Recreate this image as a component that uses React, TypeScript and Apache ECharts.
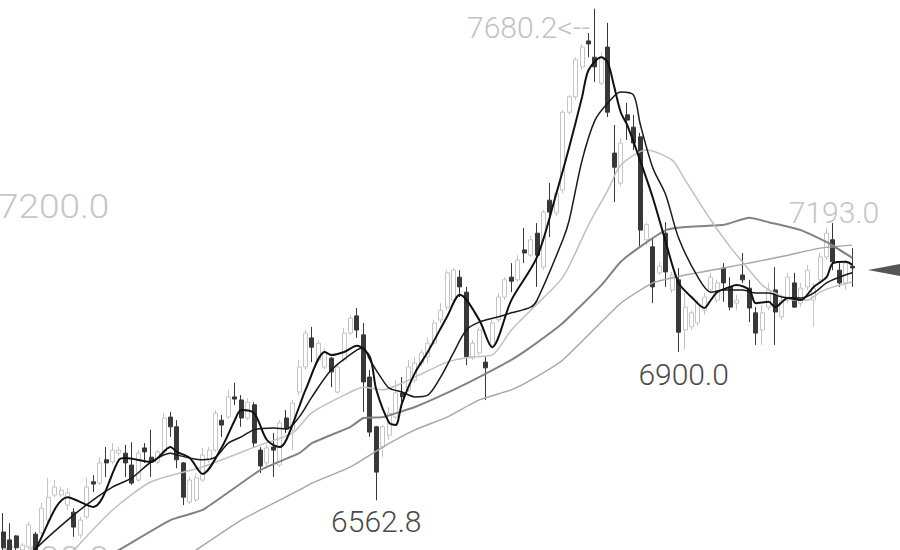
import React, { useEffect, useRef } from "react";
import * as echarts from "echarts";

const categories: string[] = Array.from({ length: 133 }, (_, i) => `D${i + 1}`);

// [open, close, low, high]
const ohlc: number[][] = [
  [6491, 6455, 6436, 6534], [6473, 6450, 6436, 6511], [6482, 6455, 6445, 6484], [6450, 6461, 6443, 6466],
  [6457, 6507, 6452, 6514], [6486, 6450, 6443, 6491], [6489, 6545, 6484, 6557], [6518, 6570, 6514, 6614],
  [6575, 6593, 6570, 6609], [6575, 6586, 6570, 6593], [6552, 6580, 6541, 6591], [6536, 6502, 6480, 6545],
  [6484, 6518, 6477, 6525], [6525, 6593, 6520, 6614], [6605, 6600, 6582, 6620], [6602, 6648, 6598, 6661],
  [6655, 6648, 6616, 6684], [6650, 6677, 6645, 6693], [6670, 6677, 6664, 6684], [6670, 6648, 6616, 6689],
  [6643, 6602, 6598, 6695], [6609, 6670, 6605, 6677], [6682, 6673, 6648, 6693], [6661, 6650, 6616, 6723],
  [6650, 6673, 6645, 6677], [6673, 6750, 6668, 6761], [6752, 6730, 6707, 6764], [6730, 6655, 6636, 6745],
  [6648, 6570, 6552, 6650], [6559, 6609, 6555, 6616], [6564, 6614, 6559, 6625], [6609, 6666, 6605, 6682],
  [6655, 6677, 6648, 6684], [6677, 6761, 6673, 6768], [6745, 6734, 6707, 6757], [6752, 6798, 6748, 6814],
  [6798, 6793, 6780, 6830], [6791, 6750, 6730, 6802], [6750, 6786, 6745, 6795], [6780, 6693, 6684, 6786],
  [6677, 6641, 6625, 6684], [6648, 6682, 6641, 6689], [6684, 6677, 6616, 6716], [6643, 6739, 6639, 6745],
  [6750, 6725, 6716, 6768], [6723, 6784, 6677, 6791], [6809, 6866, 6802, 6882], [6866, 6943, 6859, 6950],
  [6932, 6911, 6877, 6957], [6882, 6920, 6877, 6927], [6866, 6900, 6861, 6909], [6886, 6855, 6820, 6889],
  [6809, 6866, 6805, 6875], [6882, 6943, 6877, 6955], [6943, 6977, 6939, 6984], [6982, 6950, 6932, 7000],
  [6939, 6832, 6764, 6966], [6843, 6718, 6707, 6859], [6730, 6627, 6562.8, 6732], [6684, 6730, 6661, 6734],
  [6711, 6761, 6700, 6775], [6752, 6807, 6748, 6836], [6807, 6798, 6773, 6843], [6814, 6866, 6809, 6882],
  [6836, 6875, 6830, 6889], [6875, 6898, 6868, 6905], [6889, 6920, 6875, 6932], [6920, 6966, 6916, 6973],
  [6973, 6995, 6966, 7011], [7002, 7080, 6995, 7086], [7018, 7086, 7014, 7091], [7070, 7048, 7025, 7086],
  [7036, 6889, 6870, 7048], [6886, 6920, 6882, 6927], [6898, 6950, 6893, 6957], [6877, 6864, 6791, 6889],
  [6916, 6966, 6909, 6973], [6973, 7025, 6968, 7034], [7025, 7064, 7018, 7070], [7070, 7061, 7036, 7102],
  [7064, 7109, 7059, 7120], [7132, 7125, 7102, 7182], [7120, 7155, 7116, 7164], [7170, 7120, 7048, 7193],
  [7093, 7218, 7086, 7223], [7245, 7218, 7161, 7284], [7216, 7261, 7209, 7268], [7268, 7445, 7261, 7450],
  [7445, 7480, 7439, 7484], [7480, 7564, 7473, 7570], [7548, 7593, 7541, 7600], [7607, 7600, 7570, 7625],
  [7570, 7548, 7514, 7680.2], [7511, 7570, 7507, 7582], [7593, 7445, 7434, 7648], [7352, 7320, 7241, 7416],
  [7284, 7375, 7277, 7386], [7439, 7427, 7382, 7466], [7411, 7375, 7359, 7439], [7389, 7177, 7139, 7398],
  [7155, 7189, 7143, 7195], [7139, 7048, 7011, 7159], [7080, 7095, 7075, 7105], [7170, 7082, 7048, 7195],
  [7041, 7075, 7034, 7082], [7064, 6945, 6900, 7091], [6950, 7002, 6905, 7034], [6957, 6989, 6950, 6995],
  [6966, 7011, 6959, 7018], [6995, 7025, 6984, 7034], [7041, 7070, 7034, 7080], [7018, 7057, 7011, 7064],
  [7091, 7057, 7014, 7102], [7048, 7002, 6995, 7070], [7011, 7018, 6995, 7030], [7075, 7064, 7057, 7125],
  [7045, 7000, 6968, 7064], [6989, 6943, 6916, 7002], [6950, 6989, 6916, 7007], [7002, 7041, 6995, 7057],
  [7041, 6991, 6916, 7093], [6980, 7018, 6973, 7030], [7018, 7070, 7011, 7080], [7057, 7002, 7000, 7080],
  [7011, 7045, 7002, 7057], [7048, 7086, 7041, 7098], [7018, 7045, 6957, 7057], [7064, 7116, 7057, 7125],
  [7116, 7170, 7109, 7182], [7155, 7105, 7086, 7193], [7086, 7057, 7048, 7102], [7057, 7102, 7041, 7109],
  [7095, 7091, 7048, 7136],
];

// moving averages: [candle index, value]
const ma5: number[][] = [
  [2, 6385], [5, 6452], [10, 6570], [14, 6548], [18, 6655], [19, 6659], [23, 6650], [24, 6659], [26, 6684],
  [27, 6673], [29, 6659], [31, 6623], [34, 6684], [36, 6745], [37, 6768], [39, 6761], [41, 6700], [43, 6684],
  [44, 6700], [46, 6775], [47, 6814], [50, 6900], [51, 6893], [53, 6900], [55, 6914], [57, 6889], [58, 6814],
  [60, 6739], [61, 6734], [62, 6784], [64, 6852], [66, 6900], [69, 6980], [71, 7030], [74, 6973], [76, 6911],
  [79, 7018], [83, 7116], [86, 7261], [88, 7366], [90, 7480], [91, 7541], [93, 7570], [94, 7557], [95, 7502],
  [96, 7445], [97, 7416], [99, 7336], [101, 7250], [103, 7150], [105, 7057], [107, 7025], [109, 7000],
  [110, 7018], [111, 7036], [113, 7048], [114, 7052], [116, 7041], [117, 7011], [119, 7014], [120, 7002],
  [122, 7023], [124, 7018], [126, 7048], [128, 7070], [129, 7102], [131, 7105], [132, 7098],
];
const ma10: number[][] = [
  [2, 6400], [5, 6452], [10, 6518], [14, 6564], [17, 6593], [20, 6614], [23, 6650], [26, 6670], [27, 6666],
  [29, 6659], [31, 6655], [33, 6661], [35, 6693], [37, 6707], [39, 6723], [42, 6727], [44, 6725], [46, 6752],
  [48, 6798], [51, 6859], [55, 6905], [56, 6909], [57, 6882], [59, 6836], [60, 6818], [62, 6809], [64, 6798],
  [66, 6802], [68, 6843], [70, 6898], [72, 6950], [74, 6968], [77, 6980], [79, 6989], [82, 7002], [83, 7018],
  [87, 7155], [88, 7200], [90, 7336], [92, 7427], [94, 7466], [96, 7491], [98, 7484], [99, 7420], [101, 7318],
  [103, 7257], [105, 7159], [108, 7070], [110, 7036], [112, 7041], [115, 7041], [117, 7034], [119, 7034],
  [121, 7025], [124, 7023], [126, 7034], [128, 7057], [130, 7070], [132, 7080],
];
const ma20: number[][] = [
  [8, 6400], [11, 6450], [17, 6541], [23, 6605], [31, 6639], [40, 6689], [45, 6716], [48, 6762], [54, 6809],
  [56, 6820], [59, 6814], [63, 6836], [69, 6877], [73, 6889], [76, 6893], [79, 6950], [82, 6995], [87, 7070],
  [91, 7189], [94, 7268], [96, 7325], [100, 7359], [104, 7336], [106, 7291], [110, 7200], [113, 7139],
  [116, 7086], [118, 7052], [120, 7034], [123, 7018], [125, 7018], [127, 7036], [129, 7048], [132, 7059],
];
const ma40: number[][] = [
  [14, 6418], [18, 6450], [26, 6518], [31, 6541], [40, 6632], [46, 6670], [48, 6693], [54, 6730], [56, 6750],
  [59, 6752], [64, 6775], [69, 6807], [74, 6843], [79, 6882], [82, 6911], [87, 6966], [93, 7052], [96, 7105],
  [99, 7139], [103, 7177], [106, 7184], [112, 7189], [116, 7205], [119, 7195], [124, 7177], [128, 7150],
  [132, 7114],
];
const ma60: number[][] = [
  [26, 6411], [30, 6450], [37, 6518], [46, 6586], [48, 6602], [54, 6639], [59, 6684], [64, 6723], [69, 6752],
  [74, 6791], [79, 6814], [82, 6836], [87, 6882], [96, 7011], [101, 7057], [106, 7075], [112, 7091],
  [117, 7105], [122, 7120], [127, 7136], [132, 7143],
];

const yTickValues = [7200, 6400];
const yTickLabels = ["7200.0", "6400.0"];

export default function App() {
  const ref = useRef<HTMLDivElement>(null);
  useEffect(() => {
    const chart = echarts.init(ref.current!, null, { renderer: "svg" });
    const line = (data: number[][], color: string, width: number, smooth: number | boolean) => ({
      type: "line",
      data,
      symbol: "none",
      smooth,
      connectNulls: true,
      clip: true,
      lineStyle: { color, width },
      silent: true,
    });
    chart.setOption({
      animation: false,
      backgroundColor: "#ffffff",
      grid: { left: -1.5, right: 44.5, top: 0, bottom: 0 },
      xAxis: { type: "category", data: categories, show: false, boundaryGap: true },
      yAxis: { type: "value", min: 6450, max: 7700, show: false, splitLine: { show: false } },
      series: [
        {
          type: "candlestick",
          data: ohlc,
          barWidth: 4.5,
          clip: true,
          itemStyle: {
            color: "#ffffff",
            color0: "#383838",
            borderColor: "#c4c4c4",
            borderColor0: "#383838",
            borderWidth: 1,
          },
        },
        line(ma60, "#a6a6a6", 1.4, 0.15),
        line(ma40, "#828282", 2, 0.15),
        line(ma20, "#c0c0c0", 1.5, 0.25),
        line(ma10, "#1a1a1a", 1.5, 0.3),
        line(ma5, "#111111", 2, 0.3),
      ],
    });

    const toPx = (i: number, v: number) => chart.convertToPixel({ gridIndex: 0 }, [i, v]) as number[];
    const font = { fontFamily: "Roboto", fontWeight: 300 };
    const graphics: any[] = [];
    yTickValues.forEach((v, k) => {
      const p = toPx(0, v);
      graphics.push({
        type: "text", x: -2, y: p[1] - 13, scaleX: 1.12,
        style: { text: yTickLabels[k], fill: "#c6c6c6", fontSize: 33, ...font, align: "left", textAlign: "left", verticalAlign: "middle", textVerticalAlign: "middle" },
      });
    });
    const mk = (i: number, v: number, text: string, dx: number, dy: number, align: string, fill: string) => {
      const p = toPx(i, v);
      graphics.push({
        type: "text", x: p[0] + dx, y: p[1] + dy,
        style: { text, fill, fontSize: 30, ...font, align, textAlign: align, verticalAlign: "middle", textVerticalAlign: "middle" },
      });
    };
    mk(92, 7680.2, "7680.2<--", -5, 19, "right", "#c2c2c2");
    mk(58, 6562.8, "6562.8", 0, 21, "center", "#4a4a4a");
    mk(105, 6900.0, "6900.0", 5, 22, "center", "#4a4a4a");
    mk(129, 7193.0, "7193.0", 1, -11, "center", "#c4c4c4");
    const last = ohlc[ohlc.length - 1];
    const lp = toPx(ohlc.length - 1, last[1]);
    graphics.push({
      type: "polygon",
      shape: { points: [[868, lp[1] + 2], [900, lp[1] - 4], [900, lp[1] + 8]] },
      style: { fill: "#555555" },
    });
    chart.setOption({ graphic: graphics });
    return () => chart.dispose();
  }, []);
  return (
    <div
      ref={ref}
      style={{ position: "fixed", left: 0, top: 0, width: 900, height: 550, background: "#fff" }}
    />
  );
}
